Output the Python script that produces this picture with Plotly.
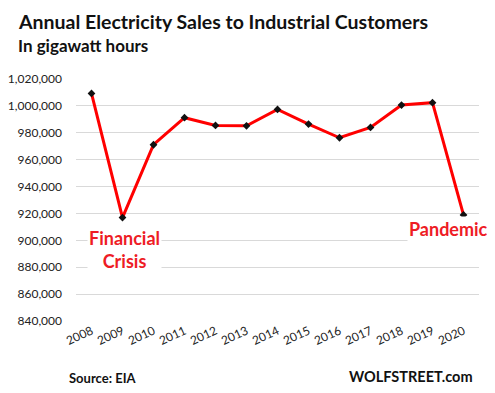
import plotly.graph_objects as go

years = [2008, 2009, 2010, 2011, 2012, 2013, 2014,
         2015, 2016, 2017, 2018, 2019, 2020]
sales_gwh = [1009300, 916900, 971100, 991200, 985500, 985200, 997400,
             986500, 976300, 984000, 1000600, 1002400, 918900]
y_ticks = [840000, 860000, 880000, 900000, 920000, 940000, 960000,
           980000, 1000000, 1020000]

FONT = "Lato"
RED = "#ee1c25"

fig = go.Figure()
fig.add_trace(go.Scatter(
    x=years, y=sales_gwh, mode="lines+markers",
    line=dict(color="#ff0000", width=3),
    marker=dict(symbol="diamond", size=6, color="#111111"),
    hoverinfo="skip", showlegend=False,
))

# the page body adds an 8px offset, so the figure is 8px smaller
fig.update_layout(
    width=487, height=385,
    margin=dict(l=68, r=16, t=71, b=72, autoexpand=False),
    paper_bgcolor="white", plot_bgcolor="white",
    font=dict(family=FONT, color="#222222"),
    xaxis=dict(range=[2007.5, 2020.5], tickvals=years,
               ticktext=[str(y) for y in years], tickangle=-25,
               showgrid=False, showline=False, zeroline=False, automargin=False,
               ticks="", tickfont=dict(size=12, color="#222222"), fixedrange=True),
    yaxis=dict(range=[840000, 1020000], tickvals=y_ticks,
               ticktext=[f"{v:,}" for v in y_ticks], automargin=False,
               showgrid=True, gridcolor="#d9d9d9", gridwidth=1,
               zeroline=False, showline=False, ticks="", ticklabelstandoff=13,
               tickfont=dict(size=12, color="#222222"), fixedrange=True),
    annotations=[
        dict(text="<b>Annual Electricity Sales to Industrial Customers</b>",
             xref="paper", yref="paper", x=-0.148, y=1.0, yshift=58,
             xanchor="left", yanchor="middle", showarrow=False,
             font=dict(size=19.5, color="#111111", family=FONT)),
        dict(text="<b>In gigawatt hours</b>",
             xref="paper", yref="paper", x=-0.148, y=1.0, yshift=34,
             xanchor="left", yanchor="middle", showarrow=False,
             font=dict(size=17, color="#111111", family=FONT)),
        dict(text="<b>Financial<br>Crisis</b>", xref="x", yref="y",
             x=2009.05, y=893500, showarrow=False, bgcolor="white",
             font=dict(size=18, color=RED, family=FONT), align="center"),
        dict(text="<b>Pandemic</b>", xref="paper", yref="y",
             x=1.027, y=908500, xanchor="right", showarrow=False, bgcolor="white",
             font=dict(size=18, color=RED, family=FONT)),
        dict(text="<b>Source: EIA</b>", xref="paper", yref="paper",
             x=-0.022, y=0, yshift=-57, xanchor="left", yanchor="middle",
             showarrow=False, font=dict(size=13, color="#111111", family=FONT)),
        dict(text="<b>WOLFSTREET.com</b>", xref="paper", yref="paper",
             x=0.99, y=0, yshift=-55, xanchor="right", yanchor="middle",
             showarrow=False, font=dict(size=14.5, color="#111111", family=FONT)),
    ],
)

fig.write_html("out.html")
